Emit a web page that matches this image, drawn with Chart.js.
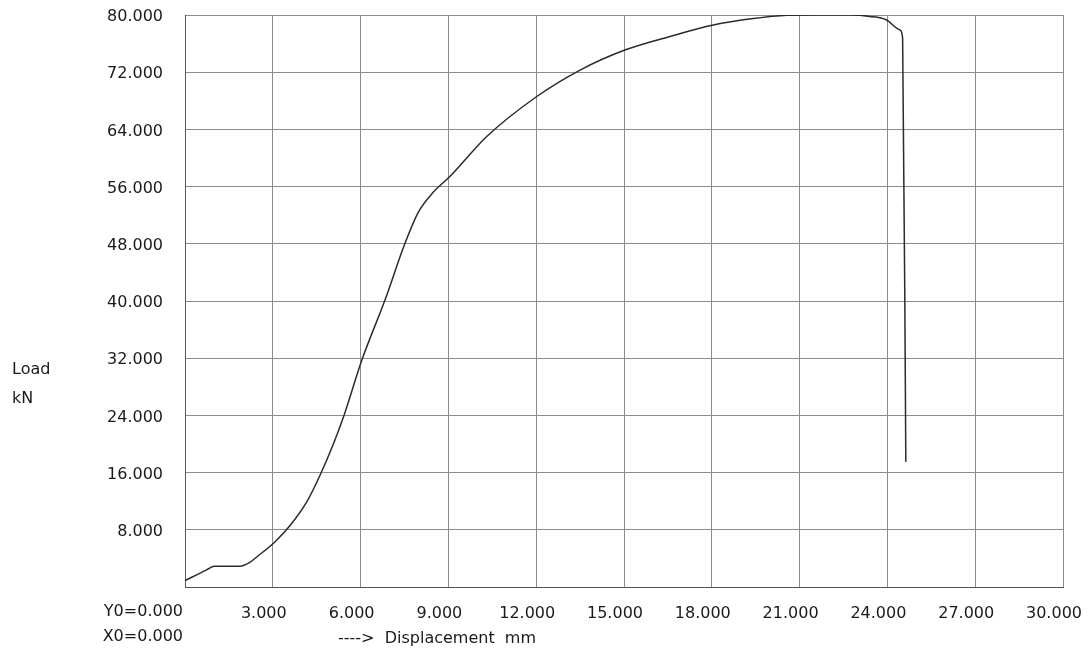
<!DOCTYPE html>
<html>
<head>
<meta charset="utf-8">
<script src="https://cdn.jsdelivr.net/npm/chart.js@4/dist/chart.umd.min.js"></script>
<style>
  html, body { margin: 0; padding: 0; background: #fff; }
  #wrap { width: 1091px; height: 652px; position: relative; }
</style>
</head>
<body>
<div id="wrap"><canvas id="chart" width="1091" height="652"></canvas></div>
<script>
// Load–displacement curve, values
const displacement = [0, 0.74, 1.0, 1.88, 2.2, 2.45, 3.07, 3.59, 4.16, 4.61, 5.07, 5.45, 6.04, 6.83, 7.52, 7.97,
    8.48, 9.05, 10.31, 12.02, 13.5, 15.03, 16.57, 18.05, 19.42, 20.56, 21.5, 22.7, 23.4, 23.97, 24.43, 24.52, 24.63];
const load = [0.9, 2.4, 2.9, 2.9, 3.4, 4.2, 6.3, 8.6, 11.9, 15.6, 20.0, 24.2, 31.7, 40.1, 48.1, 52.4,
    55.2, 57.4, 63.0, 68.6, 72.3, 75.1, 77.0, 78.6, 79.5, 79.95, 80.0, 80.0, 79.8, 79.3, 77.9, 76.8, 17.5];

const xTicks = [0, 3, 6, 9, 12, 15, 18, 21, 24, 27, 30];
const yTicks = [0, 8, 16, 24, 32, 40, 48, 56, 64, 72, 80];

const FONT = '"DejaVu Sans", Verdana, sans-serif';
const TEXT = '#1a1a1a';

// ── extra captions the machine printout puts round the axes ─────────────────
const captions = {
    id: 'captions',
    afterDraw(chart) {
        const { ctx, chartArea } = chart;
        ctx.save();
        ctx.fillStyle = TEXT;
        ctx.font = '16px ' + FONT;
        ctx.textBaseline = 'middle';
        ctx.textAlign = 'right';
        ctx.fillText('Y0=0.000', chartArea.left - 2, 612);
        ctx.fillText('X0=0.000', chartArea.left - 2, 637);
        ctx.textAlign = 'left';
        ctx.fillText('Load', 12, 370);
        ctx.fillText('kN', 12, 399);
        ctx.fillText('---->  Displacement  mm', 338, 639);
        ctx.restore();
    },
};

// keep the plot box where the printout has it (labels may hang outside)
const noScalePad = s => {
    s.paddingTop = 0;
    s.paddingBottom = 0;
    s.paddingLeft = 0;
    s.paddingRight = 0;
};

new Chart(document.getElementById('chart'), {
    type: 'scatter',
    data: {
        datasets: [{
            data: displacement.map((d, i) => ({ x: d, y: load[i] })),
            showLine: true,
            borderColor: '#2b2b2b',
            borderWidth: 1.5,
            pointRadius: 0,
            cubicInterpolationMode: 'monotone',
        }],
    },
    options: {
        responsive: false,
        animation: false,
        layout: { padding: { left: 0, right: 28, top: 15, bottom: 0 } },
        plugins: { legend: { display: false }, tooltip: { enabled: false } },
        scales: {
            x: {
                type: 'linear',
                min: 0,
                max: 30,
                afterBuildTicks: s => { s.ticks = xTicks.map(v => ({ value: v })); },
                afterFit: s => { s.height = 65; noScalePad(s); },
                grid: { color: '#8c8c8c', lineWidth: 1, drawTicks: false },
                border: { color: '#555', width: 1 },
                ticks: {
                    padding: 17,
                    labelOffset: -9,
                    color: TEXT,
                    font: { family: FONT, size: 16 },
                    maxRotation: 0,
                    callback: v => (v === 0 ? '' : v.toFixed(3)),
                },
            },
            y: {
                type: 'linear',
                min: 0,
                max: 80,
                afterBuildTicks: s => { s.ticks = yTicks.map(v => ({ value: v })); },
                afterFit: s => { s.width = 185; noScalePad(s); },
                grid: { color: '#8c8c8c', lineWidth: 1, drawTicks: false },
                border: { color: '#555', width: 1 },
                ticks: {
                    padding: 22,
                    labelOffset: 2,
                    color: TEXT,
                    font: { family: FONT, size: 16 },
                    callback: v => (v === 0 ? '' : v.toFixed(3)),
                },
            },
        },
    },
    plugins: [captions],
});
</script>
</body>
</html>
